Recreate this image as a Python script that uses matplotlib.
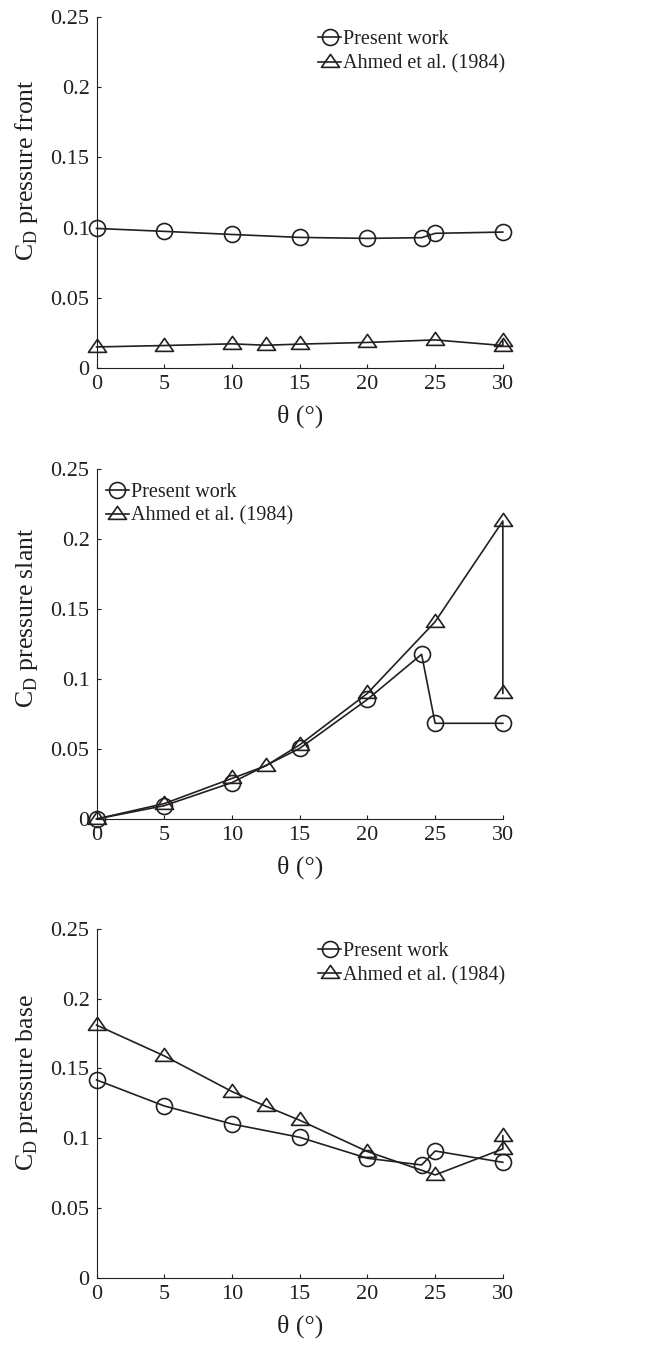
import matplotlib
matplotlib.use("Agg")
import matplotlib.pyplot as plt
from matplotlib.path import Path

plt.rcParams['font.family'] = ['Liberation Serif', 'DejaVu Serif']
plt.rcParams['mathtext.fontset'] = 'custom'
plt.rcParams['mathtext.rm'] = 'Liberation Serif'

ink = '#231f20'

# data
theta_present = [0, 5, 10, 15, 20, 24, 25, 30]
theta_ahmed = [0, 5, 10, 12.5, 15, 20, 25, 30, 30]

front_present = [0.0994, 0.0973, 0.0951, 0.0930, 0.0923, 0.0928, 0.0959, 0.0968]
front_ahmed = [0.0150, 0.0160, 0.0172, 0.0162, 0.0170, 0.0182, 0.0200, 0.0160, 0.0190]

slant_present = [0.0, 0.0095, 0.0260, 0.0505, 0.0855, 0.1177, 0.0684, 0.0684]
slant_ahmed = [0.0, 0.0110, 0.0290, 0.0380, 0.0530, 0.0898, 0.1410, 0.2130, 0.0898]

base_present = [0.1418, 0.1232, 0.1103, 0.1008, 0.0858, 0.0810, 0.0910, 0.0829]
base_ahmed = [0.1810, 0.1590, 0.1335, 0.1230, 0.1130, 0.0906, 0.0739, 0.0925, 0.1018]

ylabels = ["pressure front", "pressure slant", "pressure base"]
xticks = [0, 5, 10, 15, 20, 25, 30]
yticks = [0, 0.05, 0.1, 0.15, 0.2, 0.25]
yticklabels = ["0", "0.05", "0.1", "0.15", "0.2", "0.25"]
legend_names = ["Present work", "Ahmed et al. (1984)"]

# MATLAB style triangle: wider than tall
tri = Path([(-1, -0.54), (1, -0.54), (0, 0.9), (-1, -0.54)],
           [Path.MOVETO, Path.LINETO, Path.LINETO, Path.CLOSEPOLY])

fig = plt.figure(figsize=(6.48, 13.45), dpi=100)
boxes = [[0.149, 0.7264, 0.627, 0.261],
         [0.149, 0.3911, 0.627, 0.260],
         [0.149, 0.0496, 0.627, 0.260]]
legend_at = [(0.545, 0.962), (0.023, 0.962), (0.545, 0.962)]
label_y = [0.564, 0.575, 0.561]

series = [(front_present, front_ahmed), (slant_present, slant_ahmed), (base_present, base_ahmed)]

for i in range(3):
    ax = fig.add_axes(boxes[i])
    p, a = series[i]
    ax.plot(theta_present, p, color=ink, lw=1.2, marker='o', ms=11.5,
            mfc='none', mec=ink, mew=1.2, clip_on=False, label=legend_names[0])
    ax.plot(theta_ahmed, a, color=ink, lw=1.2, marker=tri, ms=13,
            mfc='none', mec=ink, mew=1.2, clip_on=False, label=legend_names[1])
    ax.set_xlim(0, 30)
    ax.set_ylim(0, 0.25)
    ax.set_xticks(xticks)
    ax.set_xticklabels([str(t) for t in xticks])
    ax.set_yticks(yticks)
    ax.set_yticklabels(yticklabels)
    for s in ['top', 'right']:
        ax.spines[s].set_visible(False)
    for s in ['left', 'bottom']:
        ax.spines[s].set_linewidth(0.8)
        ax.spines[s].set_color(ink)
    ax.tick_params(direction='in', length=3, width=0.8, colors=ink,
                   labelsize=16, pad=5)
    ax.set_ylabel(r"C$_\mathrm{D}$" + " " + ylabels[i], fontsize=18.5, color=ink)
    ax.yaxis.set_label_coords(-0.14, label_y[i])
    ax.set_xlabel("θ (°)", fontsize=18.5, color=ink)
    ax.xaxis.set_label_coords(0.5, -0.105)
    ax.legend(loc='upper left', bbox_to_anchor=legend_at[i], frameon=False,
              fontsize=14.5, handlelength=1.15, handletextpad=0.1,
              labelspacing=0.25, borderpad=0, borderaxespad=0, labelcolor=ink)

fig.savefig("out.png", dpi=100)
